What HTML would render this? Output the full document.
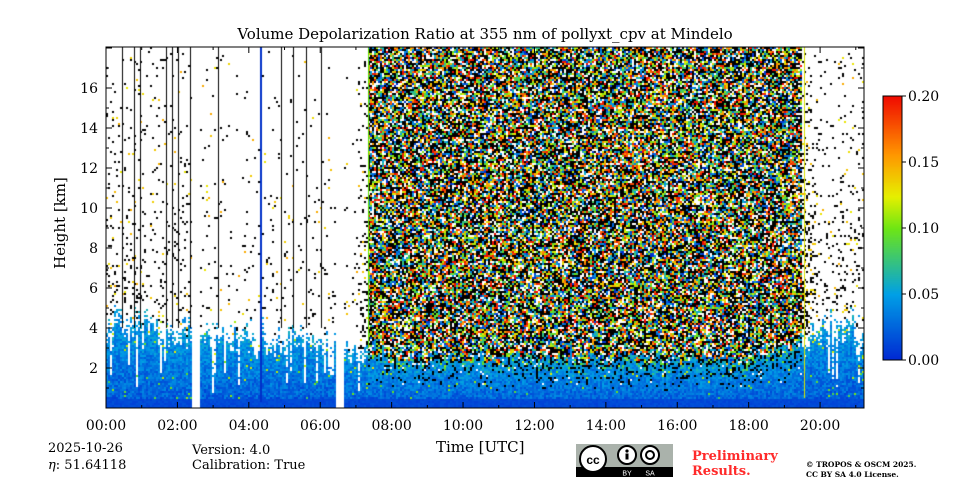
<!DOCTYPE html>
<html><head><meta charset="utf-8"><style>
body{margin:0;width:960px;height:480px;background:#fff;overflow:hidden;font-family:"DejaVu Serif","Liberation Serif",serif;}
#root{position:relative;width:960px;height:480px;}
.t{position:absolute;white-space:nowrap;color:#000;}
</style></head><body>
<div id="root">
<div class="t" style="left:0;width:970px;text-align:center;top:25px;font-size:15px;">Volume Depolarization Ratio at 355 nm of pollyxt_cpv at Mindelo</div>
<canvas id="cv" width="960" height="480" style="position:absolute;left:0;top:0"></canvas>
<svg id="ax" width="960" height="480" style="position:absolute;left:0;top:0"></svg>
<div class="t" style="left:20px;top:220px;font-size:15px;transform:rotate(-90deg);transform-origin:center;width:80px;text-align:center;">Height [km]</div>
<div class="t" style="left:436px;top:438px;font-size:15px;">Time [UTC]</div>
<div class="t" style="left:48px;top:441px;font-size:13px;">2025-10-26</div>
<div class="t" style="left:48px;top:458px;font-size:13px;"><i>η</i>: 51.64118</div>
<div class="t" style="left:192px;top:443px;font-size:13px;">Version: 4.0</div>
<div class="t" style="left:192px;top:458px;font-size:13px;">Calibration: True</div>
<svg style="position:absolute;left:576px;top:444px" width="97" height="33">
<rect width="97" height="33" fill="#aab2ab"/><rect y="23" width="97" height="10" fill="#000"/>
<circle cx="17" cy="15" r="13" fill="#fff" stroke="#000" stroke-width="2"/><text x="17" y="20" font-size="12" font-family="Liberation Sans" font-weight="bold" text-anchor="middle">cc</text>
<circle cx="51" cy="11" r="9" fill="#fff" stroke="#000" stroke-width="2"/><circle cx="51" cy="7" r="1.6"/><rect x="49.5" y="9.5" width="3" height="6"/>
<circle cx="74" cy="11" r="9" fill="#fff" stroke="#000" stroke-width="2"/><circle cx="74" cy="11" r="4" fill="none" stroke="#000" stroke-width="2"/>
<text x="51" y="31.5" font-size="7" fill="#fff" font-family="Liberation Sans" text-anchor="middle">BY</text><text x="74" y="31.5" font-size="7" fill="#fff" font-family="Liberation Sans" text-anchor="middle">SA</text></svg>
<div class="t" style="left:692px;top:449px;font-size:13px;font-weight:bold;color:#ff2a2a;line-height:15px;">Preliminary<br>Results.</div>
<div class="t" style="left:806px;top:460px;font-size:7.5px;font-weight:bold;line-height:10px;">© TROPOS &amp; OSCM 2025.<br>CC BY SA 4.0 License.</div>
</div>
<script>
// data
const hours = [0,1,2,3,4,5,6,7,8,9,10,11,12,13,14,15,16,17,18,19,20,21];
const layerTop = [4.5,4.5,4.2,4.0,4.0,3.8,3.5,3.0,2.6,2.6,2.6,2.5,2.5,2.5,2.5,2.5,2.5,2.5,2.6,2.8,4.2,4.5];
const noiseDensity = [0.14,0.12,0.1,0.05,0.05,0.05,0.05,0.05,1,1,1,1,1,1,1,1,1,1,1,1,0.12,0.16];
const dayStart = 7.35, dayEnd = 19.5;
const gapTimes = [2.52,6.55];
const blackProfiles = [0.45,0.78,0.95,1.68,1.85,2.02,2.35,3.15,4.9,5.25,5.6,6.03];
const blueProfiles = [4.3,4.35];
const greenProfiles = [7.35];
const yellowProfiles = [19.55];
const xTicks = [0,2,4,6,8,10,12,14,16,18,20];
const yTicks = [2,4,6,8,10,12,14,16];
const cbTicks = [0,0.05,0.1,0.15,0.2];

const X0=106,X1=864,Y0=408,Y1=47,HMAX=21.23,KMMAX=18.05;
const xs=t=>X0+t*(X1-X0)/HMAX, ys=h=>Y0-h*(Y0-Y1)/KMMAX;
const xinv=p=>(p-X0)*HMAX/(X1-X0), yinv=p=>(Y0-p)*KMMAX/(Y0-Y1);
function jet(v){let f=Math.max(0,Math.min(1,v/0.2));
 const stops=[[0,[0,40,210]],[0.25,[0,160,230]],[0.5,[110,230,20]],[0.62,[230,240,0]],[0.78,[255,150,0]],[1,[240,10,0]]];
 for(let i=1;i<stops.length;i++){if(f<=stops[i][0]){const a=stops[i-1],b=stops[i],k=(f-a[0])/(b[0]-a[0]);return a[1].map((c,j)=>Math.round(c+(b[1][j]-c)*k));}}return stops[5][1];}
function hsh(a,b){let h=(a*374761393+b*668265263)^0x5bd1e995;h=(h^(h>>>13))*1274126177;h^=h>>>16;return (h>>>0)/4294967296;}
function interp(arr,t){const i=Math.max(0,Math.min(arr.length-2,Math.floor(t)));const k=Math.max(0,Math.min(1,t-i));return arr[i]+(arr[i+1]-arr[i])*k;}
const cv=document.getElementById('cv'),ctx=cv.getContext('2d');
const W=X1-X0;const img=ctx.createImageData(W,Y0-Y1);
function put(x,y,c){if(x>=W||y>=Y0-Y1)return;const o=(y*W+x)*4;img.data[o]=c[0];img.data[o+1]=c[1];img.data[o+2]=c[2];img.data[o+3]=255;}
for(let px=X0;px<X1;px+=2){
 const t=xinv(px+1);
 if(gapTimes.some(g=>Math.abs(t-g)<0.09))continue;
 const day=t>=dayStart&&t<=dayEnd;
 const top=interp(layerTop,t)*(0.85+0.3*hsh(px,11));
 const nd=day?1:interp(noiseDensity,t);
 const colCut=day?99:(hsh(px,5)<0.3?0.6+hsh(px,9)*top:99);
 for(let py=Y1;py<Y0;py+=2){
  const h=yinv(py+1),r=hsh(px,py),r2=hsh(py+7,px+3);
  let c=null;
  if(h<0.5)c=jet(0.01+r*0.008);
  else if(h<top){const f=h/top;
   if(h>colCut&&r2<0.85)c=null;
   else if(day&&r2<Math.max(0,f-0.35)*0.9){c=r<0.5?[0,0,0]:(r<0.58?null:jet(0.02+r2*0.18));}
   else if(!day&&f>0.75&&r2<(f-0.75)*3)c=null;
   else c=jet(0.02+0.03*f+(r-0.5)*0.03+(r2>0.985?0.07:0));}
  else{
   if(day){ if(r2<0.92)c=r<0.38?[0,0,0]:(r<0.46?null:jet((r-0.46)/0.54*0.21)); }
   else{const d=nd*Math.max(0.25,1-(h-top)/16); if(r2<d)c=r<0.8?[0,0,0]:jet(0.03+r*0.12);}
  }
  if(c){const x=px-X0,y=py-Y1;put(x,y,c);put(x+1,y,c);put(x,y+1,c);put(x+1,y+1,c);}
 }
}
ctx.putImageData(img,X0,Y1);
function vline(t,col,h0){ctx.fillStyle=col;const x=Math.round(xs(t));ctx.fillRect(x,Y1,1,ys(h0)-Y1);}
blackProfiles.forEach(t=>vline(t,'#000',4));
blueProfiles.forEach(t=>vline(t,'#0030c8',0.3));
greenProfiles.forEach(t=>vline(t,'#5ee000',3));
yellowProfiles.forEach(t=>vline(t,'#d8e000',0.5));
const CB0=360,CB1=96;const cby=v=>CB0-v*(CB0-CB1)/0.2;
for(let y=CB1;y<CB0;y++){const c=jet((CB0-y)/(CB0-CB1)*0.2);ctx.fillStyle=`rgb(${c})`;ctx.fillRect(883,y,19,1);}
const ns='http://www.w3.org/2000/svg',ax=document.getElementById('ax');
function el(tag,at,txt){const e=document.createElementNS(ns,tag);for(const k in at)e.setAttribute(k,at[k]);if(txt!==undefined)e.textContent=txt;ax.appendChild(e);return e;}
const frame=el('rect',{x:X0,y:Y1,width:X1-X0,height:Y0-Y1,fill:'none',stroke:'#000','stroke-width':1});


for(let t=0;t<=21;t++){const x=xs(t),maj=t%2==0;const L=maj?6:3;
 el('line',{x1:x,x2:x,y1:Y0,y2:Y0-L,stroke:'#000'});el('line',{x1:x,x2:x,y1:Y1,y2:Y1+L,stroke:'#000'});}
xTicks.forEach(t=>{const e=el('text',{x:xs(t),y:Y0+22,'font-size':14,'text-anchor':'middle','font-family':'DejaVu Serif'},String(t).padStart(2,'0')+':00');
 
 });
for(let h=1;h<=18;h++){const y=ys(h),maj=h%2==0;const L=maj?6:3;
 el('line',{x1:X0,x2:X0+L,y1:y,y2:y,stroke:'#000'});el('line',{x1:X1,x2:X1-L,y1:y,y2:y,stroke:'#000'});}
yTicks.forEach(h=>{const e=el('text',{x:X0-8,y:ys(h)+5,'font-size':14,'text-anchor':'end','font-family':'DejaVu Serif'},h);
 
 });
const cbf=el('rect',{x:883,y:CB1,width:19,height:CB0-CB1,fill:'none',stroke:'#000'});


cbTicks.forEach(v=>{el('line',{x1:902,x2:906,y1:cby(v),y2:cby(v),stroke:'#000'});
 const e=el('text',{x:908,y:cby(v)+5,'font-size':14,'font-family':'DejaVu Serif'},v.toFixed(2));
 
 });
</script>
</body></html>
